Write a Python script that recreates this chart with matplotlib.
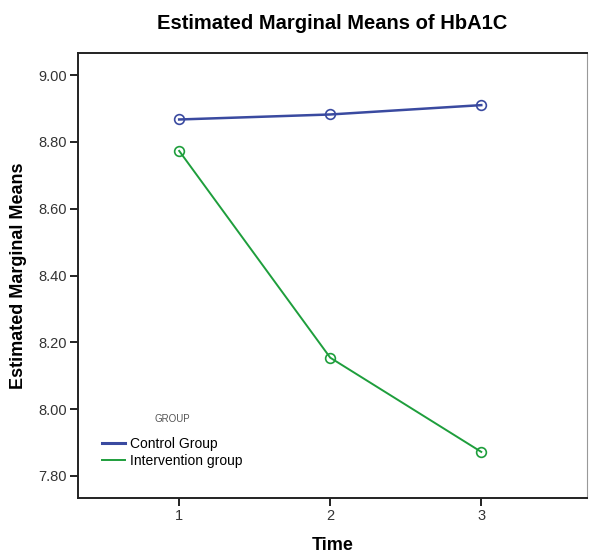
import matplotlib.pyplot as plt
from matplotlib.lines import Line2D

# values
time_points = [1, 2, 3]
control_means = [8.867, 8.882, 8.910]
intervention_means = [8.773, 8.154, 7.872]
y_ticks = [7.80, 8.00, 8.20, 8.40, 8.60, 8.80, 9.00]
group_labels = ['Control Group', 'Intervention group']

CONTROL_COLOR = '#3a4aa0'
INTERVENTION_COLOR = '#1e9e3c'

plt.rcParams['font.family'] = ['Liberation Sans', 'DejaVu Sans']


def main() -> None:
    fig = plt.figure(figsize=(5.89, 5.55), dpi=100)
    ax = fig.add_axes([0.1324, 0.1027, 0.8642, 0.8018])

    ax.plot(time_points, control_means, color=CONTROL_COLOR, lw=1.8,
            marker='o', ms=7, mfc='none', mec=CONTROL_COLOR, mew=1.2)
    ax.plot(time_points, intervention_means, color=INTERVENTION_COLOR, lw=1.4,
            marker='o', ms=7, mfc='none', mec=INTERVENTION_COLOR, mew=1.2)

    ax.set_xlim(0.33, 3.70)
    ax.set_ylim(7.734, 9.066)
    ax.set_xticks(time_points)
    ax.set_yticks(y_ticks)
    ax.set_yticklabels([f'{v:.2f}' for v in y_ticks])

    for side in ['left', 'bottom', 'top']:
        ax.spines[side].set_color('#222222')
        ax.spines[side].set_linewidth(1.4)
    ax.spines['right'].set_color('#999999')
    ax.spines['right'].set_linewidth(0.8)

    ax.tick_params(axis='both', direction='out', length=6, width=1.4,
                   color='#222222', labelsize=10.5, labelcolor='#333333', pad=2)

    ax.set_title('Estimated Marginal Means of HbA1C', fontsize=14.5,
                 fontweight='bold', pad=17)
    ax.set_ylabel('Estimated Marginal Means', fontsize=13, fontweight='bold',
                  labelpad=8)
    ax.set_xlabel('Time', fontsize=13, fontweight='bold', labelpad=10)

    handles = [Line2D([], [], color=CONTROL_COLOR, lw=2.2),
               Line2D([], [], color=INTERVENTION_COLOR, lw=1.4)]
    leg = ax.legend(handles, group_labels, title='GROUP', loc='lower left',
                    bbox_to_anchor=(0.033, 0.052), frameon=False, fontsize=10,
                    title_fontsize=7, handlelength=1.7, handletextpad=0.3,
                    labelspacing=0.22, borderpad=0)
    leg.get_title().set_color('#555555')
    leg._legend_box.sep = 9

    fig.savefig('out.png', dpi=100, facecolor='white')


if __name__ == '__main__':
    main()
